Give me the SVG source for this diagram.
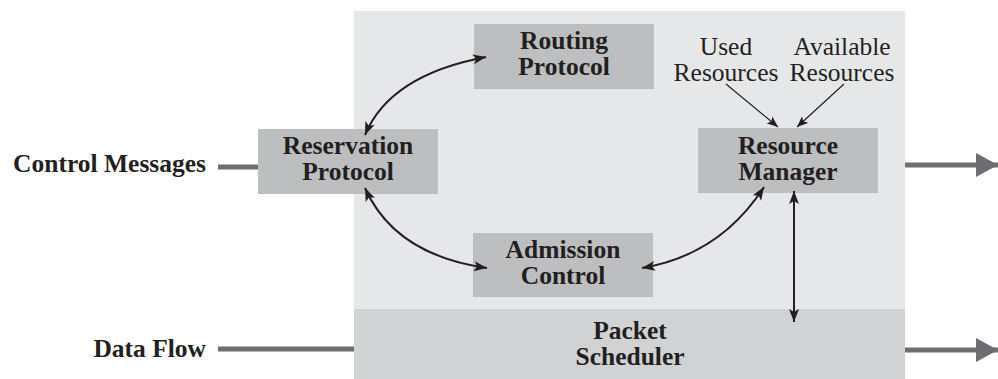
<svg xmlns="http://www.w3.org/2000/svg" width="998" height="379" viewBox="0 0 998 379">
<style>
.box{fill:#bcbec0}
.lbl{font-family:"Liberation Serif","Times New Roman",serif;font-weight:bold;font-size:25.5px;fill:#231f20;text-anchor:middle}
.side{font-family:"Liberation Serif","Times New Roman",serif;font-weight:bold;font-size:25.5px;fill:#231f20;text-anchor:end}
.res{font-family:"Liberation Serif","Times New Roman",serif;font-size:25.5px;fill:#231f20;text-anchor:middle}
.curve{fill:none;stroke:#231f20;stroke-width:2}
.thin{fill:none;stroke:#231f20;stroke-width:1.2}
.flow{fill:none;stroke:#6d6e71;stroke-width:5}
</style>
<defs>
<marker id="ah" markerUnits="userSpaceOnUse" markerWidth="14" markerHeight="12" refX="13" refY="5" orient="auto-start-reverse" viewBox="0 0 14 10">
<path d="M0,0 L13,5 L0,10 L3,5 z" fill="#231f20"/>
</marker>
<marker id="ahs" markerUnits="userSpaceOnUse" markerWidth="12" markerHeight="10" refX="11" refY="4.5" orient="auto" viewBox="0 0 12 9">
<path d="M0,0 L11,4.5 L0,9 L2.5,4.5 z" fill="#231f20"/>
</marker>
<marker id="big" markerUnits="userSpaceOnUse" markerWidth="24" markerHeight="24" refX="22" refY="12" orient="auto" viewBox="0 0 24 24">
<path d="M0,0 L22,12 L0,24 z" fill="#6d6e71"/>
</marker>
</defs>
<rect x="354" y="11" width="551" height="368" fill="#e6e7e8"/>
<g id="packet-scheduler">
<rect x="354" y="309" width="551" height="70" fill="#d1d2d4"/>
<text class="lbl" x="630" y="339">Packet</text>
<text class="lbl" x="630" y="365">Scheduler</text>
</g>
<g id="routing-protocol">
<rect class="box" x="474" y="24" width="180" height="65"/>
<text class="lbl" x="564" y="49">Routing</text>
<text class="lbl" x="564" y="75">Protocol</text>
</g>
<g id="reservation-protocol">
<rect class="box" x="258" y="129" width="180" height="65"/>
<text class="lbl" x="348" y="154">Reservation</text>
<text class="lbl" x="348" y="180">Protocol</text>
</g>
<g id="resource-manager">
<rect class="box" x="698" y="128" width="180" height="65"/>
<text class="lbl" x="788" y="154">Resource</text>
<text class="lbl" x="788" y="180">Manager</text>
</g>
<g id="admission-control">
<rect class="box" x="473" y="233" width="180" height="64"/>
<text class="lbl" x="563" y="258">Admission</text>
<text class="lbl" x="563" y="284">Control</text>
</g>
<g id="used-resources">
<text class="res" x="726" y="55">Used</text>
<text class="res" x="726" y="81">Resources</text>
</g>
<g id="available-resources">
<text class="res" x="842" y="55">Available</text>
<text class="res" x="842" y="81">Resources</text>
</g>
<g id="control-messages">
<text class="side" x="206" y="172">Control Messages</text>
</g>
<g id="data-flow">
<text class="side" x="206" y="357">Data Flow</text>
</g>
<g id="connectors">
<path class="flow" d="M218,167 L258,167"/>
<path class="flow" d="M218,349 L354,349"/>
<path class="flow" d="M905,165 L998,165" marker-end="url(#big)"/>
<path class="flow" d="M905,350 L998,350" marker-end="url(#big)"/>
<path class="curve" d="M365,135 Q390,75 486,57" marker-start="url(#ah)" marker-end="url(#ah)"/>
<path class="curve" d="M365,188 Q395,255 487,268" marker-start="url(#ah)" marker-end="url(#ah)"/>
<path class="curve" d="M642,268 Q720,255 764,187" marker-start="url(#ah)" marker-end="url(#ah)"/>
<path class="curve" d="M794,191 L794,322" marker-start="url(#ah)" marker-end="url(#ah)"/>
<path class="thin" d="M726,84 L778,127" marker-end="url(#ahs)"/>
<path class="thin" d="M844,84 L797,127" marker-end="url(#ahs)"/>
</g>
</svg>
